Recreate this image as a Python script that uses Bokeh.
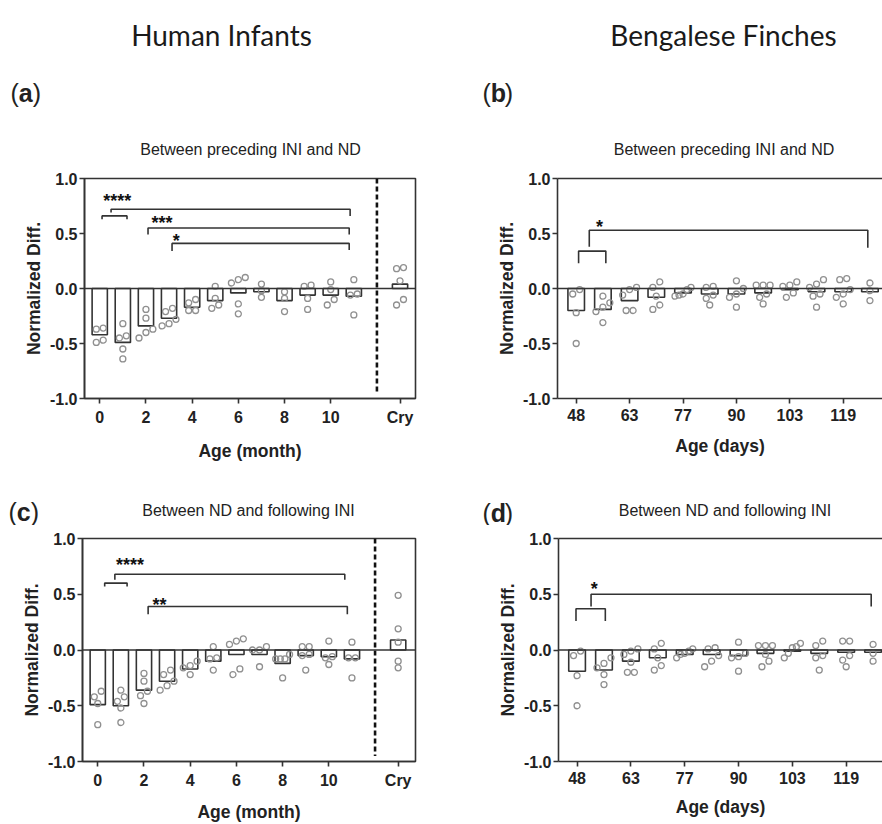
from bokeh.plotting import figure
from bokeh.models import Range1d, FixedTicker, Span, LinearAxis
from bokeh.layouts import row, column
from bokeh.embed import file_html
from bokeh.resources import INLINE
from bokeh.core.properties import value

# ---------------- data ----------------
infant_months = [0, 1, 2, 3, 4, 5, 6, 7, 8, 9, 10, 11]
infant_tick_months = [0, 2, 4, 6, 8, 10]
infant_extra = "Cry"

finch_groups = list(range(12))
finch_tick_labels = ["48", "63", "77", "90", "103", "119"]  # every other group

headers = ["Human Infants", "Bengalese Finches"]
panel_letters = ["a", "b", "c", "d"]
subtitles = ["Between preceding INI and ND", "Between preceding INI and ND",
             "Between ND and following INI", "Between ND and following INI"]

# (a) Between preceding INI and ND (infants)
a_bar = [-0.42, -0.49, -0.34, -0.27, -0.17, -0.11, -0.04, -0.03, -0.11, -0.06, -0.06, -0.07]
a_bar_cry = 0.04
a_pts = [
    [-0.36, -0.37, -0.49, -0.47],
    [-0.32, -0.45, -0.43, -0.55, -0.64],
    [-0.19, -0.27, -0.37, -0.45, -0.40],
    [-0.18, -0.21, -0.28, -0.34, -0.32],
    [-0.10, -0.13, -0.20, -0.20],
    [0.02, -0.09, -0.15, -0.18],
    [0.10, 0.05, 0.08, -0.14, -0.23],
    [0.04, -0.02, -0.08],
    [-0.03, -0.09, -0.21],
    [0.02, 0.03, -0.09, -0.19],
    [0.06, -0.01, -0.10, -0.15],
    [0.08, -0.05, -0.06, -0.24],
]
a_pts_cry = [0.18, 0.19, 0.07, -0.15, -0.10]

# (c) Between ND and following INI (infants)
c_bar = [-0.49, -0.50, -0.36, -0.28, -0.17, -0.10, -0.04, -0.04, -0.12, -0.05, -0.06, -0.08]
c_bar_cry = 0.09
c_pts = [
    [-0.42, -0.37, -0.48, -0.67],
    [-0.42, -0.46, -0.36, -0.52, -0.65],
    [-0.21, -0.28, -0.37, -0.41, -0.48],
    [-0.22, -0.18, -0.28, -0.32, -0.36],
    [-0.10, -0.14, -0.16, -0.22],
    [0.03, -0.08, -0.07, -0.18],
    [0.08, 0.05, 0.10, -0.22, -0.17],
    [0.00, 0.00, 0.03, -0.15],
    [-0.04, -0.08, -0.08, -0.08, -0.25],
    [0.03, 0.03, -0.04, -0.05, -0.18],
    [0.08, -0.07, -0.06, -0.13],
    [0.07, -0.07, -0.07, -0.25],
]
c_pts_cry = [0.49, 0.19, 0.07, -0.16, -0.10]

# (b) Between preceding INI and ND (finches)
b_bar = [-0.20, -0.19, -0.11, -0.08, -0.04, -0.05, -0.05, -0.04, -0.01, -0.03, -0.03, -0.03]
b_pts = [
    [-0.05, -0.01, -0.22, -0.50],
    [-0.07, -0.13, -0.17, -0.21, -0.31],
    [-0.01, 0.01, -0.06, -0.20, -0.20],
    [0.01, 0.06, -0.07, -0.19, -0.15],
    [0.01, -0.01, -0.06, -0.07, -0.05],
    [0.02, 0.01, -0.06, -0.09, -0.15],
    [0.07, 0.00, -0.05, -0.08, -0.17],
    [0.03, 0.03, 0.03, -0.05, -0.08, -0.14],
    [0.03, 0.02, 0.06, -0.04, -0.08],
    [0.01, 0.08, 0.04, -0.05, -0.07, -0.17],
    [0.08, 0.09, -0.01, -0.05, -0.08, -0.14],
    [0.05, -0.02, -0.11],
]

# (d) Between ND and following INI (finches)
d_bar = [-0.19, -0.18, -0.10, -0.07, -0.04, -0.04, -0.05, -0.03, -0.01, -0.03, -0.02, -0.02]
d_pts = [
    [-0.05, -0.01, -0.23, -0.50],
    [-0.07, -0.12, -0.16, -0.22, -0.31],
    [-0.01, 0.01, -0.04, -0.11, -0.20, -0.20],
    [0.01, 0.06, -0.07, -0.14, -0.18],
    [-0.03, -0.01, -0.07, -0.04, 0.01],
    [0.01, 0.02, -0.05, -0.10, -0.15],
    [0.07, -0.06, -0.07, -0.03, -0.19],
    [0.04, 0.04, 0.04, -0.04, -0.10, -0.15],
    [0.03, 0.02, 0.06, -0.07, -0.03],
    [0.08, 0.04, -0.05, -0.07, -0.18],
    [0.08, 0.08, -0.05, -0.09, -0.15],
    [0.05, -0.03, -0.10],
]

# significance brackets: (x_left, x_right, y, left leg end, right leg end)
a_brackets = [(0.10, 1.18, 0.66, 0.63, 0.63), (0.49, 10.84, 0.72, 0.69, 0.66),
              (2.09, 10.80, 0.55, 0.49, 0.49), (3.13, 10.80, 0.41, 0.34, 0.35)]
a_stars = [("****", 0.76, 0.82), ("***", 2.70, 0.62), ("*", 3.31, 0.46)]
c_brackets = [(0.30, 1.27, 0.60, 0.57, 0.57), (0.74, 10.69, 0.68, 0.63, 0.63),
              (2.18, 10.80, 0.39, 0.32, 0.32)]
c_stars = [("****", 1.40, 0.79), ("**", 2.67, 0.43)]
b_brackets = [(0.09, 1.11, 0.34, 0.23, 0.23), (0.49, 10.92, 0.53, 0.38, 0.37)]
b_stars = [("*", 0.87, 0.585)]
d_brackets = [(-0.04, 1.05, 0.37, 0.26, 0.26), (0.52, 10.93, 0.50, 0.39, 0.39)]
d_stars = [("*", 0.64, 0.57)]

# ---------------- styling ----------------
DARK = "#333333"
PT = "#909090"
FONT = "Liberation Sans"
W = 882


def swarm(vals, dy=0.055, dx=0.3, maxw=0.6):
    order = sorted(range(len(vals)), key=lambda i: vals[i])
    clusters = []
    for i in order:
        if clusters and vals[i] - vals[clusters[-1][-1]] < dy:
            clusters[-1].append(i)
        else:
            clusters.append([i])
    offs = [0.0] * len(vals)
    for cl in clusters:
        n = len(cl)
        if n == 1:
            continue
        step = min(dx, maxw / (n - 1))
        for k, i in enumerate(cl):
            offs[i] = (k - (n - 1) / 2) * step
    return offs


def make_fig(w, h, bl, br, bt, bb, xr, closed):
    p = figure(width=w, height=h, x_range=Range1d(*xr), y_range=Range1d(-1, 1),
               output_backend="svg", toolbar_location=None,
               min_border_left=bl, min_border_right=br, min_border_top=bt, min_border_bottom=bb)
    p.xgrid.visible = False
    p.ygrid.visible = False
    p.background_fill_color = "white"
    p.border_fill_color = "white"
    xa = p.below[0]
    ya = p.left[0]
    for ax in (xa, ya):
        ax.axis_line_color = DARK
        ax.axis_line_width = 1.6
        ax.major_tick_line_color = DARK
        ax.major_tick_line_width = 1.6
        ax.major_tick_out = 5
        ax.major_tick_in = 0
        ax.minor_tick_line_color = None
        ax.major_label_text_font = FONT
        ax.major_label_text_font_style = "bold"
        ax.major_label_text_font_size = "16px"
        ax.major_label_text_color = "#222222"
        ax.axis_label_text_font = FONT
        ax.axis_label_text_font_style = "bold"
        ax.axis_label_text_font_size = "17.5px"
        ax.axis_label_text_color = "#222222"
    ya.ticker = FixedTicker(ticks=[-1.0, -0.5, 0.0, 0.5, 1.0])
    ya.major_label_overrides = {-1.0: "-1.0", -0.5: "-0.5", 0.0: "0.0", 0.5: "0.5", 1.0: "1.0"}
    ya.axis_label = "Normalized Diff."
    ya.major_label_standoff = 2
    ya.axis_label_standoff = 3
    xa.major_label_standoff = 5
    if closed:
        p.outline_line_color = DARK
        p.outline_line_width = 1.6
        p.outline_line_alpha = 1
    else:
        p.outline_line_color = None
        top = LinearAxis(ticker=FixedTicker(ticks=[]), axis_line_color=DARK, axis_line_width=1.6,
                         major_tick_line_color=None, minor_tick_line_color=None,
                         major_tick_out=0, major_tick_in=0, major_label_standoff=0)
        p.add_layout(top, "above")
    p.add_layout(Span(location=0, dimension="width", line_color=DARK, line_width=1.6))
    return p, xa


def draw_bars_points(p, xs, bars, pts, bar_w, dx):
    p.vbar(x=xs, top=bars, bottom=0, width=bar_w, fill_color="white",
           line_color=DARK, line_width=1.6)
    px, py = [], []
    for x, vals in zip(xs, pts):
        for o, v in zip(swarm(vals, dx=dx), vals):
            px.append(x + o)
            py.append(v)
    p.scatter(px, py, marker="circle", size=6, fill_color=None, line_color=PT, line_width=1.3)


def draw_sig(p, brackets, stars):
    xs = [[x1, x1, x2, x2] for x1, x2, y, l1, l2 in brackets]
    ys = [[l1, y, y, l2] for x1, x2, y, l1, l2 in brackets]
    p.multi_line(xs, ys, line_color=DARK, line_width=1.6)
    p.text(x=[s[1] for s in stars], y=[s[2] for s in stars], text=[s[0] for s in stars],
           text_font=value(FONT), text_font_style="bold", text_font_size="18px",
           text_align="center", text_baseline="alphabetic", y_offset=3, text_color="#111111")


def infant_panel(w, h, bl, br, bt, bb, xr, bars, bar_cry, pts, pts_cry, brackets, stars, lab_std):
    p, xa = make_fig(w, h, bl, br, bt, bb, xr, True)
    n = len(infant_months)
    cry_x = n + 1
    xs = list(infant_months) + [cry_x]
    draw_bars_points(p, xs, list(bars) + [bar_cry], list(pts) + [pts_cry], 0.66, 0.3)
    p.segment(x0=[n], y0=[1.0], x1=[n], y1=[-0.95], line_color="#111111", line_width=2.6,
              line_dash="5 3")
    draw_sig(p, brackets, stars)
    ticks = list(infant_tick_months) + [cry_x]
    xa.ticker = FixedTicker(ticks=ticks)
    over = {m: str(m) for m in infant_tick_months}
    over[cry_x] = infant_extra
    xa.major_label_overrides = over
    xa.axis_label = "Age (month)"
    xa.axis_label_standoff = lab_std
    return p


def finch_panel(w, h, bl, br, bt, bb, xr, bars, pts, brackets, stars, lab_std):
    p, xa = make_fig(w, h, bl, br, bt, bb, xr, False)
    draw_bars_points(p, finch_groups, bars, pts, 0.62, 0.26)
    draw_sig(p, brackets, stars)
    ticks = finch_groups[::2]
    xa.ticker = FixedTicker(ticks=ticks)
    xa.major_label_overrides = {t: l for t, l in zip(ticks, finch_tick_labels)}
    xa.axis_label = "Age (days)"
    xa.axis_label_standoff = lab_std
    return p


def strip(y0, y1):
    # text-only strip; data coordinates equal page pixels
    s = figure(width=W, height=y1 - y0, x_range=Range1d(0, W), y_range=Range1d(y1, y0),
               output_backend="svg", toolbar_location=None, x_axis_type=None, y_axis_type=None,
               min_border=0)
    s.xgrid.visible = False
    s.ygrid.visible = False
    s.outline_line_color = None
    s.background_fill_color = "white"
    s.border_fill_color = "white"
    return s


def put_text(s, x, y, t, size, font=FONT, style="normal", align="left", color="#222222"):
    s.text(x=[x], y=[y], text=[t], text_font=value(font), text_font_size=size,
           text_font_style=style, text_align=align, text_baseline="alphabetic",
           text_color=color)


def put_letter(s, x, y, letter):
    put_text(s, x, y, "(", "25px")
    put_text(s, x + 8.3, y, letter, "25px", style="bold")
    put_text(s, x + 8.3 + 13.9, y, ")", "25px")


# strip 1: page rows 0..160
s1 = strip(0, 160)
put_text(s1, 221, 34, headers[0], "28px", font="Lato", align="center", color="#1a1a1a")
put_text(s1, 723, 34, headers[1], "28px", font="Lato", align="center", color="#1a1a1a")
put_letter(s1, 10, 92, panel_letters[0])
put_letter(s1, 482, 92, panel_letters[1])
put_text(s1, 250, 149, subtitles[0], "16px", align="center")
put_text(s1, 723.5, 149, subtitles[1], "16px", align="center")

# row 1: page rows 160..470, frames 178..398
pa = infant_panel(440, 310, 84, 25, 18, 72, (-0.66, 13.67), a_bar, a_bar_cry, a_pts, a_pts_cry,
                  a_brackets, a_stars, 12)
pb = finch_panel(442, 310, 117, 0, 18, 72, (-0.70, 11.47), b_bar, b_pts, b_brackets, b_stars, 12)

# strip 2: page rows 470..525
s2 = strip(470, 525)
put_letter(s2, 8, 511, panel_letters[2])
put_letter(s2, 482, 512, panel_letters[3])
put_text(s2, 248, 510, subtitles[2], "16px", align="center")
put_text(s2, 724.5, 510, subtitles[3], "16px", align="center")

# row 2: page rows 525..824, frames 538..761
pc = infant_panel(440, 299, 82, 25, 13, 63, (-0.66, 13.75), c_bar, c_bar_cry, c_pts, c_pts_cry,
                  c_brackets, c_stars, 10)
pd = finch_panel(442, 299, 118, 0, 13, 63, (-0.69, 11.35), d_bar, d_pts, d_brackets, d_stars, 10)

layout = column(s1, row(pa, pb), s2, row(pc, pd))
open("out.html", "w").write(file_html(layout, INLINE))
